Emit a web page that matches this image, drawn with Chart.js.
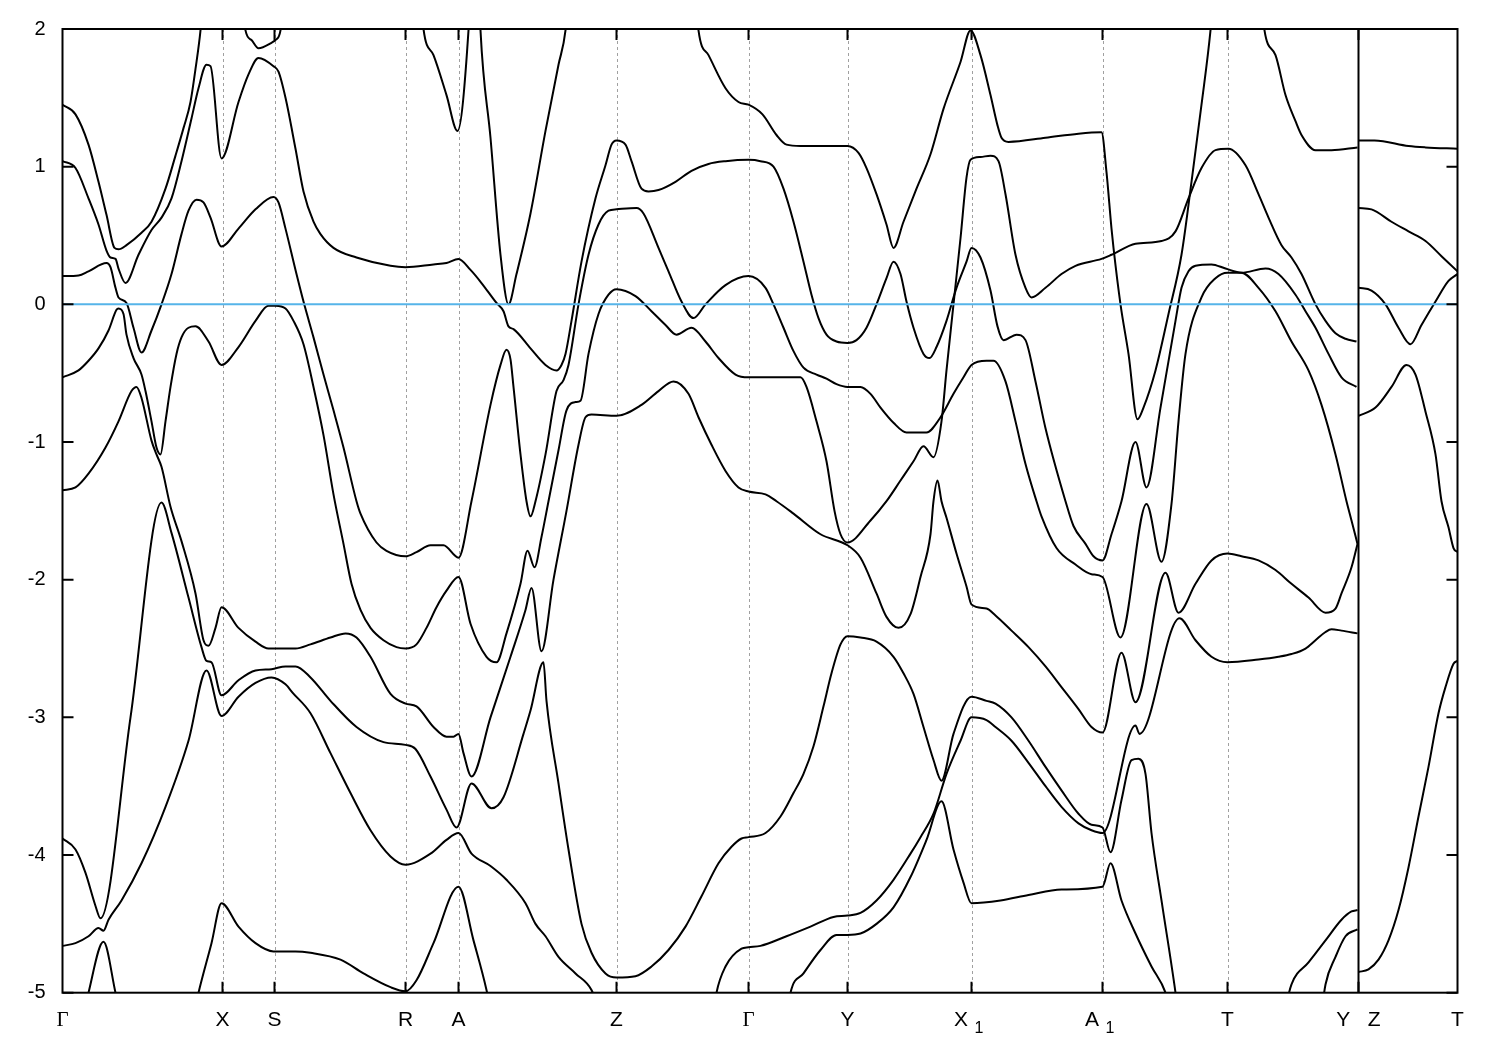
<!DOCTYPE html>
<html>
<head>
<meta charset="utf-8">
<script src="https://cdn.jsdelivr.net/npm/chart.js@4.4.0/dist/chart.umd.min.js"></script>
<style>
html, body { margin: 0; padding: 0; background: #fff; }
canvas { display: block; }
</style>
</head>
<body>
<canvas id="bands" width="1500" height="1050"></canvas>
<script>
// k-path: positions of the high symmetry points and their labels
var symK = [0, 1.60, 2.12, 3.43, 3.96, 5.54, 6.86, 7.85, 9.09, 10.40, 11.65, 12.96, 13.95];
var symLabels = ["Γ", "X", "S", "R", "A", "Z", "Γ", "Y", "X", "A", "T", "Y   Z", "T"];
var symSub = ["", "", "", "", "", "", "", "", "1", "1", "", "", ""];
var yTicks = [2, 1, 0, -1, -2, -3, -4, -5];

// bands, [k, E(eV)]
var bandTop = [[0,1.45],[0.13,1.38],[0.26,1.16],[0.36,0.89],[0.44,0.65],[0.52,0.41],[0.56,0.40],[0.64,0.43],[0.79,0.52],[0.89,0.60],[1.03,0.84],[1.13,1.08],[1.21,1.28],[1.28,1.47],[1.33,1.71],[1.38,1.99],[1.45,2.6],[1.76,2.6],[1.83,1.99],[1.89,1.92],[1.96,1.86],[2.09,1.90],[2.13,1.92],[2.18,1.99],[2.25,2.6],[3.55,2.6],[3.61,2.0],[3.71,1.81],[3.84,1.52],[3.95,1.26],[4.06,1.99],[4.10,2.6],[4.15,2.6],[4.18,1.99],[4.28,1.21],[4.38,0.36],[4.46,0.0],[4.54,0.22],[4.68,0.66],[4.83,1.26],[4.96,1.74],[5.03,1.99],[5.10,2.6],[6.30,2.6],[6.36,1.99],[6.46,1.81],[6.63,1.57],[6.76,1.47],[6.86,1.45],[7.00,1.38],[7.14,1.23],[7.24,1.16],[7.38,1.15],[7.85,1.15],[7.96,1.10],[8.04,0.99],[8.14,0.80],[8.24,0.58],[8.31,0.41],[8.41,0.60],[8.54,0.84],[8.68,1.09],[8.81,1.42],[8.98,1.76],[9.08,1.99],[9.18,1.81],[9.28,1.52],[9.35,1.30],[9.39,1.21],[9.46,1.18],[9.83,1.21],[10.16,1.24],[10.39,1.25],[10.44,0.96],[10.49,0.55],[10.51,0.41],[10.58,0.0],[10.66,-0.36],[10.75,-0.835],[10.81,-0.75],[10.93,-0.48],[11.06,-0.07],[11.19,0.36],[11.29,0.89],[11.39,1.45],[11.48,1.99],[11.55,2.6],[11.95,2.6],[12.02,1.99],[12.13,1.81],[12.23,1.52],[12.33,1.33],[12.39,1.23],[12.53,1.12],[12.69,1.12],[12.95,1.14]];

var bandB = [[0,1.04],[0.13,0.99],[0.26,0.77],[0.36,0.58],[0.44,0.39],[0.48,0.34],[0.53,0.33],[0.56,0.26],[0.63,0.155],[0.76,0.36],[0.89,0.54],[0.99,0.63],[1.09,0.77],[1.19,1.04],[1.29,1.35],[1.36,1.57],[1.44,1.74],[1.48,1.73],[1.59,1.06],[1.76,1.47],[1.86,1.67],[1.96,1.79],[2.11,1.73],[2.16,1.69],[2.23,1.50],[2.33,1.13],[2.41,0.82],[2.51,0.60],[2.58,0.51],[2.71,0.41],[2.94,0.34],[3.28,0.28],[3.43,0.27],[3.71,0.29],[3.84,0.30],[3.96,0.33],[4.08,0.25],[4.19,0.155],[4.34,0.01],[4.41,-0.05],[4.46,-0.16],[4.51,-0.18],[4.68,-0.32],[4.83,-0.44],[4.94,-0.48],[4.99,-0.44],[5.03,-0.36],[5.09,-0.12],[5.19,0.31],[5.33,0.77],[5.43,1.01],[5.49,1.16],[5.54,1.19],[5.63,1.16],[5.69,1.04],[5.79,0.84],[5.86,0.82],[5.96,0.83],[6.13,0.89],[6.29,0.97],[6.46,1.02],[6.63,1.04],[6.86,1.05],[6.98,1.04],[7.11,1.00],[7.21,0.84],[7.31,0.60],[7.41,0.31],[7.49,0.07],[7.56,-0.10],[7.64,-0.22],[7.74,-0.27],[7.85,-0.28],[7.94,-0.26],[8.04,-0.17],[8.14,0.0],[8.24,0.19],[8.31,0.31],[8.38,0.22],[8.44,0.02],[8.51,-0.17],[8.61,-0.36],[8.67,-0.39],[8.74,-0.31],[8.84,-0.12],[8.94,0.12],[9.04,0.31],[9.09,0.41],[9.18,0.34],[9.28,0.10],[9.35,-0.16],[9.41,-0.26],[9.54,-0.22],[9.63,-0.26],[9.73,-0.56],[9.83,-0.90],[10.03,-1.43],[10.11,-1.61],[10.23,-1.74],[10.31,-1.83],[10.40,-1.86],[10.49,-1.67],[10.59,-1.43],[10.73,-1.00],[10.84,-1.33],[10.98,-0.75],[11.13,-0.12],[11.19,0.12],[11.26,0.24],[11.33,0.28],[11.49,0.29],[11.63,0.26],[11.79,0.23],[12.03,0.26],[12.16,0.22],[12.33,0.07],[12.43,-0.05],[12.53,-0.17],[12.66,-0.36],[12.79,-0.53],[12.94,-0.60]];

var bandC = [[0,0.205],[0.16,0.21],[0.26,0.24],[0.44,0.30],[0.48,0.27],[0.53,0.12],[0.56,0.05],[0.64,0.01],[0.71,-0.17],[0.79,-0.35],[0.89,-0.19],[0.99,0.0],[1.09,0.22],[1.19,0.51],[1.26,0.68],[1.34,0.76],[1.41,0.74],[1.48,0.63],[1.59,0.42],[1.76,0.55],[1.93,0.69],[2.11,0.78],[2.16,0.74],[2.23,0.55],[2.34,0.22],[2.41,0.02],[2.51,-0.24],[2.61,-0.51],[2.71,-0.77],[2.81,-1.04],[2.94,-1.43],[2.98,-1.52],[3.14,-1.73],[3.24,-1.79],[3.43,-1.83],[3.54,-1.80],[3.68,-1.75],[3.81,-1.75],[3.96,-1.84],[4.09,-1.43],[4.28,-0.73],[4.38,-0.44],[4.44,-0.33],[4.48,-0.40],[4.51,-0.60],[4.58,-1.09],[4.64,-1.43],[4.68,-1.54],[4.73,-1.43],[4.83,-1.09],[4.94,-0.63],[5.01,-0.55],[5.06,-0.44],[5.16,0.0],[5.26,0.36],[5.36,0.58],[5.46,0.68],[5.54,0.69],[5.74,0.70],[5.81,0.66],[5.96,0.41],[6.06,0.24],[6.19,0.02],[6.31,-0.10],[6.43,0.0],[6.63,0.14],[6.86,0.205],[7.03,0.12],[7.11,0.0],[7.21,-0.17],[7.31,-0.34],[7.41,-0.46],[7.54,-0.51],[7.64,-0.54],[7.74,-0.58],[7.85,-0.60],[7.98,-0.60],[8.08,-0.65],[8.18,-0.75],[8.31,-0.86],[8.44,-0.93],[8.64,-0.93],[8.78,-0.82],[8.91,-0.65],[9.01,-0.53],[9.09,-0.44],[9.24,-0.41],[9.31,-0.41],[9.43,-0.56],[9.53,-0.85],[9.63,-1.16],[9.74,-1.43],[9.79,-1.54],[9.94,-1.77],[10.13,-1.89],[10.29,-1.96],[10.40,-1.98],[10.58,-2.42],[10.84,-1.45],[10.99,-1.87],[11.09,-1.45],[11.16,-0.85],[11.23,-0.36],[11.39,0.05],[11.53,0.19],[11.65,0.23],[11.79,0.23],[11.96,0.12],[12.13,-0.05],[12.29,-0.27],[12.46,-0.48],[12.59,-0.73],[12.73,-1.09],[12.84,-1.43],[12.89,-1.57],[12.95,-1.74]];

var bandH = [[0,-0.53],[0.16,-0.48],[0.26,-0.41],[0.36,-0.32],[0.46,-0.19],[0.54,-0.04],[0.56,-0.03],[0.61,-0.07],[0.64,-0.22],[0.71,-0.39],[0.79,-0.51],[0.83,-0.63],[0.89,-0.85],[0.94,-1.04],[0.98,-1.09],[1.03,-0.85],[1.08,-0.60],[1.14,-0.36],[1.19,-0.24],[1.26,-0.17],[1.33,-0.16],[1.46,-0.27],[1.59,-0.44],[1.76,-0.31],[1.93,-0.12],[2.06,-0.01],[2.13,-0.01],[2.23,-0.03],[2.31,-0.12],[2.41,-0.29],[2.51,-0.60],[2.61,-0.95],[2.71,-1.38],[2.81,-1.74],[2.89,-2.03],[2.98,-2.22],[3.08,-2.35],[3.21,-2.44],[3.34,-2.49],[3.43,-2.50],[3.54,-2.47],[3.64,-2.35],[3.74,-2.20],[3.84,-2.08],[3.96,-1.98],[4.08,-2.32],[4.24,-2.56],[4.34,-2.60],[4.44,-2.39],[4.58,-2.03],[4.65,-1.79],[4.72,-1.91],[4.79,-1.69],[4.86,-1.43],[4.96,-1.06],[5.04,-0.77],[5.13,-0.71],[5.18,-0.70],[5.26,-0.36],[5.36,-0.07],[5.46,0.07],[5.54,0.11],[5.73,0.06],[5.89,-0.05],[6.03,-0.15],[6.14,-0.22],[6.29,-0.17],[6.43,-0.27],[6.56,-0.39],[6.73,-0.51],[6.86,-0.53],[7.38,-0.53],[7.44,-0.60],[7.54,-0.85],[7.64,-1.14],[7.72,-1.50],[7.78,-1.67],[7.85,-1.73],[8.08,-1.57],[8.24,-1.43],[8.38,-1.28],[8.51,-1.14],[8.61,-1.03],[8.71,-1.11],[8.79,-0.85],[8.84,-0.48],[8.91,0.0],[8.98,0.48],[9.04,0.92],[9.08,1.05],[9.18,1.07],[9.28,1.08],[9.36,1.04],[9.43,0.80],[9.53,0.36],[9.63,0.12],[9.69,0.05],[9.83,0.12],[9.99,0.22],[10.13,0.28],[10.39,0.33],[10.49,0.36],[10.73,0.44],[10.99,0.46],[11.13,0.53],[11.26,0.77],[11.39,0.99],[11.53,1.12],[11.66,1.13],[11.83,1.01],[11.96,0.80],[12.06,0.63],[12.19,0.43],[12.29,0.34],[12.39,0.22],[12.53,0.0],[12.63,-0.12],[12.73,-0.21],[12.83,-0.25],[12.94,-0.27]];

var bandM = [[0,-1.35],[0.13,-1.33],[0.26,-1.23],[0.43,-1.04],[0.56,-0.85],[0.69,-0.63],[0.74,-0.60],[0.79,-0.68],[0.89,-0.99],[0.94,-1.09],[0.99,-1.18],[1.08,-1.47],[1.19,-1.72],[1.33,-2.10],[1.41,-2.44],[1.46,-2.48],[1.53,-2.35],[1.59,-2.20],[1.76,-2.35],[1.93,-2.45],[2.06,-2.50],[2.23,-2.50],[2.33,-2.50],[2.48,-2.47],[2.68,-2.42],[2.83,-2.39],[2.94,-2.42],[3.08,-2.56],[3.28,-2.83],[3.43,-2.90],[3.54,-2.92],[3.71,-3.07],[3.84,-3.14],[3.91,-3.14],[3.96,-3.12],[4.01,-3.26],[4.09,-3.43],[4.28,-3.0],[4.48,-2.56],[4.63,-2.22],[4.69,-2.06],[4.79,-2.52],[4.91,-2.0],[5.04,-1.50],[5.16,-1.02],[5.23,-0.82],[5.29,-0.80],[5.54,-0.81],[5.79,-0.73],[5.96,-0.63],[6.11,-0.56],[6.26,-0.65],[6.36,-0.82],[6.49,-1.02],[6.63,-1.21],[6.76,-1.33],[6.86,-1.36],[7.03,-1.38],[7.14,-1.43],[7.31,-1.52],[7.58,-1.67],[7.85,-1.75],[7.98,-1.84],[8.14,-2.10],[8.24,-2.27],[8.36,-2.35],[8.48,-2.25],[8.58,-1.98],[8.68,-1.67],[8.71,-1.43],[8.75,-1.28],[8.79,-1.43],[8.84,-1.55],[8.94,-1.81],[9.04,-2.05],[9.09,-2.18],[9.24,-2.21],[9.33,-2.26],[9.49,-2.37],[9.66,-2.49],[9.83,-2.63],[9.99,-2.78],[10.16,-2.94],[10.29,-3.07],[10.40,-3.11],[10.59,-2.53],[10.73,-2.89],[11.03,-1.95],[11.16,-2.24],[11.33,-2.03],[11.49,-1.86],[11.65,-1.81],[11.79,-1.83],[11.96,-1.86],[12.13,-1.93],[12.29,-2.03],[12.46,-2.13],[12.63,-2.24],[12.73,-2.21],[12.79,-2.10],[12.89,-1.91],[12.95,-1.74]];

var bandN = [[0,-3.88],[0.13,-3.96],[0.23,-4.13],[0.33,-4.37],[0.38,-4.46],[0.68,-3.0],[0.99,-1.44],[1.09,-1.66],[1.26,-2.13],[1.39,-2.49],[1.44,-2.59],[1.49,-2.60],[1.59,-2.84],[1.76,-2.73],[1.93,-2.66],[2.09,-2.65],[2.23,-2.63],[2.33,-2.63],[2.48,-2.71],[2.68,-2.88],[2.94,-3.07],[3.21,-3.18],[3.43,-3.20],[3.53,-3.23],[3.68,-3.43],[3.84,-3.67],[3.94,-3.80],[4.09,-3.48],[4.29,-3.66],[4.41,-3.58],[4.61,-3.12],[4.68,-2.95],[4.81,-2.60],[4.84,-2.88],[4.96,-3.48],[5.06,-3.96],[5.19,-4.50],[5.29,-4.71],[5.43,-4.86],[5.54,-4.89],[5.73,-4.88],[5.89,-4.81],[6.06,-4.69],[6.23,-4.52],[6.39,-4.30],[6.56,-4.06],[6.69,-3.94],[6.79,-3.88],[6.86,-3.87],[7.03,-3.84],[7.18,-3.72],[7.31,-3.55],[7.41,-3.41],[7.51,-3.21],[7.61,-2.92],[7.69,-2.68],[7.78,-2.47],[7.85,-2.41],[7.98,-2.42],[8.14,-2.45],[8.31,-2.56],[8.41,-2.68],[8.51,-2.83],[8.61,-3.07],[8.71,-3.31],[8.79,-3.46],[8.91,-3.12],[9.09,-2.85],[9.24,-2.88],[9.33,-2.90],[9.49,-3.00],[9.66,-3.17],[9.83,-3.36],[9.99,-3.53],[10.16,-3.70],[10.29,-3.78],[10.40,-3.80],[10.48,-3.98],[10.59,-3.60],[10.69,-3.31],[10.76,-3.30],[10.83,-3.41],[10.89,-3.84],[10.99,-4.33],[11.13,-5.0],[11.20,-5.4]];

var bandO = [[0,-4.66],[0.13,-4.64],[0.26,-4.59],[0.36,-4.53],[0.41,-4.55],[0.46,-4.47],[0.59,-4.33],[0.79,-4.06],[1.03,-3.65],[1.26,-3.17],[1.44,-2.66],[1.59,-2.99],[1.76,-2.85],[1.93,-2.75],[2.09,-2.71],[2.23,-2.76],[2.30,-2.82],[2.48,-2.97],[2.68,-3.26],[2.88,-3.55],[3.08,-3.82],[3.28,-4.01],[3.43,-4.07],[3.68,-3.99],[3.84,-3.89],[3.96,-3.84],[4.09,-3.99],[4.28,-4.08],[4.44,-4.18],[4.63,-4.35],[4.73,-4.50],[4.83,-4.59],[4.96,-4.74],[5.13,-4.86],[5.29,-4.98],[5.40,-5.2]];

var bandP = [[0.20,-5.2],[0.26,-5.0],[0.41,-4.63],[0.53,-5.0],[0.59,-5.2]];

var bandQ = [[1.30,-5.2],[1.36,-5.0],[1.49,-4.64],[1.59,-4.35],[1.76,-4.52],[1.93,-4.64],[2.11,-4.70],[2.33,-4.70],[2.48,-4.71],[2.78,-4.76],[3.01,-4.86],[3.28,-4.96],[3.43,-4.99],[3.54,-4.91],[3.71,-4.64],[3.96,-4.23],[4.11,-4.62],[4.24,-4.98],[4.30,-5.2]];

var bandU = [[6.50,-5.2],[6.54,-5.0],[6.63,-4.81],[6.79,-4.68],[6.86,-4.67],[6.98,-4.66],[7.24,-4.59],[7.48,-4.52],[7.71,-4.45],[7.85,-4.44],[7.98,-4.42],[8.14,-4.33],[8.31,-4.18],[8.48,-3.99],[8.58,-3.87],[8.71,-3.70],[8.84,-3.41],[8.98,-3.17],[9.09,-3.0],[9.24,-3.02],[9.33,-3.07],[9.49,-3.17],[9.66,-3.33],[9.83,-3.50],[9.99,-3.65],[10.16,-3.77],[10.29,-3.82],[10.40,-3.84],[10.73,-3.06],[10.77,-3.12],[11.17,-2.28],[11.33,-2.44],[11.49,-2.56],[11.65,-2.60],[11.96,-2.58],[12.16,-2.56],[12.29,-2.54],[12.43,-2.50],[12.53,-2.44],[12.63,-2.38],[12.69,-2.36],[12.79,-2.37],[12.95,-2.39]];

var bandV = [[7.24,-5.2],[7.28,-5.0],[7.41,-4.86],[7.58,-4.69],[7.74,-4.58],[7.85,-4.58],[7.98,-4.57],[8.14,-4.50],[8.31,-4.38],[8.48,-4.16],[8.64,-3.89],[8.79,-3.61],[8.91,-3.96],[9.01,-4.20],[9.09,-4.35],[9.38,-4.33],[9.66,-4.29],[9.99,-4.25],[10.40,-4.23],[10.48,-4.06],[10.59,-4.33],[10.73,-4.57],[10.89,-4.81],[11.03,-5.0],[11.10,-5.2]];

var bandW1 = [[12.20,-5.2],[12.29,-4.94],[12.46,-4.78],[12.63,-4.62],[12.79,-4.47],[12.89,-4.41],[12.95,-4.40]];
var bandW2 = [[12.58,-5.2],[12.63,-4.94],[12.73,-4.74],[12.83,-4.59],[12.95,-4.54]];

// Z - T panel
var bandZ1 = [[12.96,1.19],[13.12,1.19],[13.46,1.15],[13.63,1.14],[13.95,1.13]];
var bandZ2 = [[12.96,0.70],[13.09,0.69],[13.29,0.60],[13.46,0.53],[13.63,0.46],[13.79,0.35],[13.95,0.24]];
var bandZ3 = [[12.96,0.12],[13.09,0.10],[13.23,0.0],[13.36,-0.17],[13.48,-0.29],[13.59,-0.15],[13.73,0.02],[13.86,0.17],[13.95,0.22]];
var bandZ4 = [[12.96,-0.81],[13.13,-0.75],[13.29,-0.60],[13.44,-0.44],[13.53,-0.51],[13.63,-0.78],[13.73,-1.09],[13.79,-1.43],[13.86,-1.62],[13.91,-1.77],[13.95,-1.80]];
var bandZ5 = [[12.96,-4.85],[13.06,-4.83],[13.16,-4.76],[13.26,-4.62],[13.36,-4.40],[13.46,-4.09],[13.56,-3.72],[13.66,-3.36],[13.76,-2.97],[13.83,-2.78],[13.91,-2.61],[13.95,-2.59]];

var fermi = [[0,0],[13.95,0]];

var bands = [bandTop, bandB, bandC, bandH, bandM, bandN, bandO, bandP, bandQ, bandU, bandV,
             bandW1, bandW2, bandZ1, bandZ2, bandZ3, bandZ4, bandZ5];

function toXY(arr) {
    return arr.map(function (p) { return {x: p[0], y: p[1]}; });
}

var datasets = [{
    data: toXY(fermi),
    borderColor: "#56b4e9",
    borderWidth: 2,
    pointRadius: 0,
    fill: false
}];
bands.forEach(function (b) {
    datasets.push({
        data: toXY(b),
        borderColor: "#000000",
        borderWidth: 2,
        pointRadius: 0,
        fill: false,
        cubicInterpolationMode: "monotone"
    });
});

var sansFont = "'Liberation Sans', Arial, sans-serif";
var serifFont = "'Liberation Serif', 'DejaVu Serif', serif";

var framePlugin = {
    id: "frame",
    beforeDatasetsDraw: function (chart) {
        var ctx = chart.ctx, a = chart.chartArea, xs = chart.scales.x;
        ctx.save();
        ctx.strokeStyle = "#a0a0a0";
        ctx.lineWidth = 1;
        ctx.setLineDash([3, 3]);
        for (var i = 1; i < symK.length - 1; i++) {
            if (i === 11) continue;
            var px = Math.round(xs.getPixelForValue(symK[i])) + 0.5;
            ctx.beginPath();
            ctx.moveTo(px, a.top);
            ctx.lineTo(px, a.bottom);
            ctx.stroke();
        }
        ctx.restore();
    },
    afterDatasetsDraw: function (chart) {
        var ctx = chart.ctx, a = chart.chartArea, xs = chart.scales.x, ys = chart.scales.y;
        ctx.save();
        ctx.strokeStyle = "#000";
        ctx.lineWidth = 2;
        ctx.strokeRect(a.left, a.top, a.right - a.left, a.bottom - a.top);
        // Y|Z break
        var bx = xs.getPixelForValue(symK[11]);
        ctx.beginPath();
        ctx.moveTo(bx, a.top);
        ctx.lineTo(bx, a.bottom);
        ctx.stroke();
        // inner tick marks
        var tl = 11;
        for (var i = 1; i < symK.length - 1; i++) {
            var px = xs.getPixelForValue(symK[i]);
            ctx.beginPath();
            ctx.moveTo(px, a.top); ctx.lineTo(px, a.top + tl);
            ctx.moveTo(px, a.bottom); ctx.lineTo(px, a.bottom - tl);
            ctx.stroke();
        }
        yTicks.forEach(function (v) {
            var py = ys.getPixelForValue(v);
            ctx.beginPath();
            ctx.moveTo(a.left, py); ctx.lineTo(a.left + tl, py);
            ctx.moveTo(a.right, py); ctx.lineTo(a.right - tl, py);
            ctx.stroke();
        });
        // subscripts of X1 and A1
        ctx.fillStyle = "#000";
        ctx.font = "16px " + sansFont;
        ctx.textAlign = "left";
        ctx.textBaseline = "alphabetic";
        symSub.forEach(function (s, i) {
            if (!s) return;
            ctx.fillText(s, xs.getPixelForValue(symK[i]) + 3, a.bottom + 40);
        });
        ctx.restore();
    }
};

new Chart(document.getElementById("bands"), {
    type: "line",
    data: {datasets: datasets},
    options: {
        responsive: false,
        animation: false,
        events: [],
        layout: {padding: {left: 0, right: 42.5, top: 27.3, bottom: 0}},
        plugins: {legend: {display: false}, tooltip: {enabled: false}},
        scales: {
            x: {
                type: "linear",
                min: 0,
                max: 13.95,
                afterBuildTicks: function (axis) {
                    axis.ticks = symK.map(function (v) { return {value: v}; });
                },
                afterFit: function (scale) { scale.height = 57.3; },
                ticks: {
                    autoSkip: false,
                    maxRotation: 0,
                    color: "#000",
                    padding: 15,
                    font: function (c) {
                        var lab = symLabels[c.index];
                        return {family: lab === "Γ" ? serifFont : sansFont, size: 21};
                    },
                    callback: function (value, index) {
                        return symSub[index] ? symLabels[index] + "\u2003" : symLabels[index];
                    }
                },
                grid: {display: false, drawTicks: false},
                border: {display: false}
            },
            y: {
                min: -5,
                max: 2,
                afterBuildTicks: function (axis) {
                    axis.ticks = yTicks.map(function (v) { return {value: v}; });
                },
                afterFit: function (scale) { scale.width = 62.5; },
                ticks: {
                    color: "#000",
                    font: {family: sansFont, size: 20},
                    padding: 17,
                    callback: function (value) { return String(value); }
                },
                grid: {display: false, drawTicks: false},
                border: {display: false}
            }
        }
    },
    plugins: [framePlugin]
});
</script>
</body>
</html>
